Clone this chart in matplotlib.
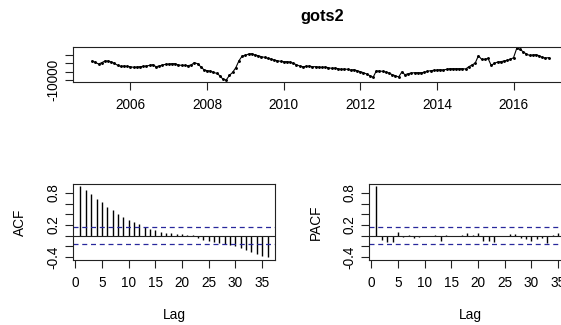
import numpy as np
import matplotlib
matplotlib.use("Agg")
import matplotlib.pyplot as plt

plt.rcParams['font.family'] = ['Liberation Sans', 'DejaVu Sans']

# Monthly series gots2, January 2005 - December 2016
start_year = 2005
gots2 = [
    1440, 630, -370, 430, 1440, 1440, 830, 30, -1170, -1780, -1580, -1780,
    -1980, -2380, -2180, -1980, -1780, -1580, -1170, -770, -1980, -1580, -970, -570,
    -370, -170, -170, -970, -1170, -1170, -1370, -970, 430, -170, -1980, -3780,
    -4380, -4590, -5390, -5990, -7400, -9600, -10000, -7190, -5390, -2580, 1640, 4450,
    4850, 5650, 5850, 5050, 4650, 4050, 3640, 3040, 2640, 2040, 1640, 1240,
    1040, 1040, 830, 30, -770, -1580, -1980, -1780, -1580, -1980, -1980, -2180,
    -2380, -2180, -2580, -2980, -2780, -3180, -3580, -3380, -3580, -3980, -3780, -4380,
    -4990, -5590, -6390, -7400, -8400, -4590, -4590, -4790, -5190, -5790, -6790, -7400,
    -8200, -5190, -6790, -6190, -5790, -5590, -5590, -5590, -5390, -4790, -4380, -4180,
    -3980, -3780, -3980, -3580, -3180, -3180, -3180, -3180, -3180, -3380, -1980, -970,
    230, 4650, 2440, 2440, 3040, -1170, 30, 830, 1040, 1440, 1840, 2440,
    3440, 9060, 8460, 7060, 5650, 4850, 5050, 5250, 4650, 3640, 3240, 3440,
]
years = start_year + np.arange(len(gots2)) / 12.0

# Autocorrelations for lags 1..36
lags = np.arange(1, 37)
acf_vals = [
    0.935, 0.854, 0.779, 0.686, 0.624, 0.530, 0.480, 0.406, 0.344, 0.293, 0.250, 0.219,
    0.157, 0.125, 0.107, 0.075, 0.056, 0.044, 0.031, 0.025, 0.019, 0.005, -0.040, -0.075,
    -0.095, -0.110, -0.130, -0.155, -0.180, -0.195, -0.225, -0.260, -0.300, -0.335, -0.370, -0.400,
]
pacf_vals = [
    0.935, -0.085, -0.125, -0.125, 0.060, -0.020, 0.020, -0.035, -0.020, -0.010, 0.000, 0.010,
    -0.090, 0.010, 0.000, 0.000, 0.010, 0.056, 0.010, 0.044, -0.090, -0.090, -0.110, 0.000,
    0.000, 0.030, 0.030, -0.050, -0.060, -0.090, -0.070, -0.040, -0.140, 0.010, 0.044, 0.000,
]
conf = 1.96 / np.sqrt(len(gots2))

ts_xticks = [2006, 2008, 2010, 2012, 2014, 2016]
ts_yticks = [-10000, -5000, 0, 5000]
ts_ylabels = ['-10000', '', '', '']
cf_xticks = [0, 5, 10, 15, 20, 25, 30, 35]
cf_yticks = [-0.4, -0.2, 0.0, 0.2, 0.4, 0.6, 0.8]
cf_ylabels = ['-0.4', '', '', '0.2', '', '', '0.8']

W, H = 561, 325
fig = plt.figure(figsize=(W / 100, H / 100), dpi=100)
fig.patch.set_facecolor('white')

FS = 9.8
LW = 0.8


def px_axes(left, top, right, bottom):
    return fig.add_axes([left / W, 1 - bottom / H, (right - left) / W, (bottom - top) / H])


def r_style(ax):
    for s in ax.spines.values():
        s.set_linewidth(LW)
        s.set_color('#222222')
    ax.tick_params(direction='out', length=5.5, width=LW, colors='#222222',
                   labelcolor='black', labelsize=FS)
    ax.tick_params(axis='x', pad=6)
    ax.tick_params(axis='y', pad=3.5)


def set_yticks(ax, ticks, labels):
    ax.set_yticks(ticks)
    ax.set_yticklabels(labels, rotation=90, va='center')


# Time series panel
ax_ts = px_axes(73, 47.3, 571, 81.7)
ax_ts.plot(years, gots2, color='black', lw=0.8, marker='.', ms=2.2)
ax_ts.set_xlim(2004.5, 2017.5)
ax_ts.set_ylim(-11020, 9690)
ax_ts.set_xticks(ts_xticks)
set_yticks(ax_ts, ts_yticks, ts_ylabels)
r_style(ax_ts)
fig.text(322 / W, 1 - 16 / H, 'gots2', ha='center', va='center',
         fontsize=11.8, fontweight='bold')


def corr_panel(left, right, values, label):
    ax = px_axes(left, 184, right, 260)
    ax.vlines(lags, 0, values, colors='black', lw=1.0)
    ax.axhline(0, color='#222222', lw=LW)
    for c in (conf, -conf):
        ax.axhline(c, color='#28289c', lw=0.9, ls=(0, (4, 3)))
    ax.set_xlim(-0.4, 37.4)
    ax.set_ylim(-0.454, 0.966)
    ax.set_xticks(cf_xticks)
    set_yticks(ax, cf_yticks, cf_ylabels)
    r_style(ax)
    ax.set_xlabel('Lag', fontsize=FS)
    ax.xaxis.set_label_coords(0.5, -55 / 76)
    ax.xaxis.label.set_va('center')
    ax.set_ylabel(label, fontsize=FS)
    ax.yaxis.label.set_va('center')
    ax.yaxis.set_label_coords(-53 / 202, 0.5)
    return ax


corr_panel(73, 275, acf_vals, 'ACF')
corr_panel(369, 571, pacf_vals, 'PACF')

fig.savefig('out.png', dpi=100)
